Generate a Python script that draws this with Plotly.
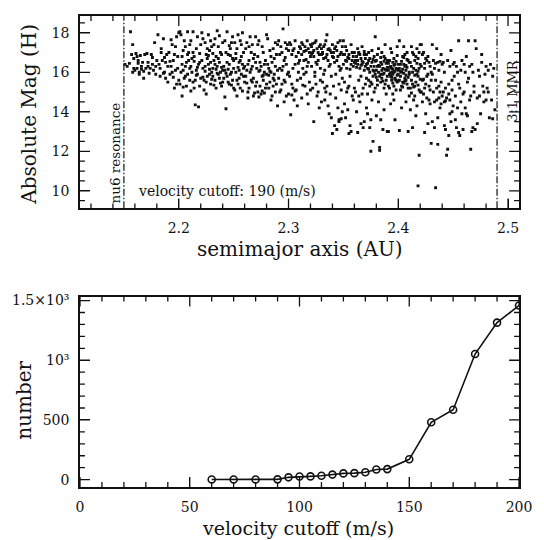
import plotly.graph_objects as go

# ---------------- data: top panel (semimajor axis, absolute magnitude) -------------
ASTEROIDS = [
 (2.151,16.4),(2.153,16.3),(2.156,18.05),(2.158,17.4),(2.157,16.9),(2.159,16.2),(2.158,16.0),(2.155,16.45),(2.159,16.7),(2.160,16.1),
 (2.161,16.95),(2.162,16.8),(2.163,16.6),(2.162,16.2),(2.164,16.0),(2.165,16.85),(2.166,16.3),(2.167,16.5),(2.168,15.7),(2.169,16.9),(2.170,16.2),(2.166,16.15),(2.163,16.45),(2.168,16.05),(2.164,15.9),
 (2.171,16.95),(2.172,16.3),(2.174,16.2),(2.175,16.9),(2.176,16.4),(2.177,16.1),(2.178,17.5),(2.179,16.3),(2.173,15.95),(2.180,16.6),(2.176,16.75),(2.172,16.5),(2.179,15.9),
 (2.181,17.9),(2.182,16.4),(2.183,15.8),(2.184,17.2),(2.185,16.6),(2.186,17.7),(2.187,16.0),(2.188,15.7),(2.189,16.9),(2.190,16.3),(2.183,16.2),(2.186,15.95),(2.188,16.5),(2.184,17.0),(2.190,15.5),(2.187,16.75),
 (2.191,17.0),(2.192,15.9),(2.193,16.3),(2.194,17.4),(2.195,16.6),(2.196,15.2),(2.197,16.1),(2.198,17.8),(2.199,16.8),(2.200,15.6),(2.192,16.55),(2.195,15.75),(2.197,17.3),(2.199,16.2),(2.194,16.0),(2.198,15.4),(2.196,16.9),(2.200,18.0),(2.193,17.65),
 (2.201,18.05),(2.202,17.9),(2.203,16.8),(2.204,16.1),(2.205,15.7),(2.206,17.3),(2.207,16.5),(2.208,15.9),(2.209,17.0),(2.210,16.2),(2.201,15.4),(2.203,16.4),(2.205,17.6),(2.207,15.3),(2.209,16.6),(2.202,16.0),(2.204,17.1),(2.206,15.8),(2.208,16.9),(2.210,15.6),(2.203,14.8),(2.206,16.3),(2.208,18.05),(2.210,17.4),(2.204,15.25),
 (2.211,17.6),(2.212,16.0),(2.213,15.5),(2.214,16.8),(2.215,14.35),(2.216,17.2),(2.217,15.9),(2.218,14.25),(2.219,16.5),(2.220,15.7),(2.211,16.3),(2.213,17.0),(2.214,15.2),(2.216,16.1),(2.217,17.8),(2.219,15.3),(2.212,16.7),(2.215,15.6),(2.218,16.4),(2.220,17.4),(2.213,18.05),(2.216,15.85),(2.219,16.95),(2.211,15.05),(2.217,16.25),(2.214,16.55),
 (2.221,18.0),(2.222,16.2),(2.223,15.6),(2.224,17.5),(2.225,16.9),(2.226,15.8),(2.227,16.4),(2.228,17.1),(2.229,15.4),(2.230,16.0),(2.221,16.6),(2.222,17.7),(2.223,15.1),(2.224,16.3),(2.225,15.5),(2.226,16.7),(2.227,17.9),(2.228,15.9),(2.229,16.5),(2.230,17.3),(2.222,15.75),(2.224,16.05),(2.226,17.2),(2.228,16.15),(2.230,15.65),(2.225,14.9),(2.227,16.85),(2.229,17.6),
 (2.231,16.2),(2.232,17.4),(2.233,15.6),(2.234,16.8),(2.235,18.1),(2.236,15.9),(2.237,16.5),(2.238,17.0),(2.239,15.3),(2.240,16.1),(2.231,15.8),(2.232,16.6),(2.233,17.7),(2.234,15.2),(2.235,16.3),(2.236,17.3),(2.237,15.7),(2.238,16.0),(2.239,16.9),(2.240,15.5),(2.233,16.4),(2.235,15.95),(2.237,17.85),(2.239,16.25),(2.231,16.95),(2.236,16.7),(2.238,15.45),(2.240,17.5),(2.234,16.15),(2.232,15.35),
 (2.241,16.3),(2.242,17.6),(2.243,14.15),(2.244,15.8),(2.245,16.9),(2.246,15.4),(2.247,17.2),(2.248,16.0),(2.249,15.6),(2.250,16.6),(2.241,15.7),(2.242,16.1),(2.243,17.0),(2.244,18.05),(2.245,15.5),(2.246,16.4),(2.247,15.9),(2.248,17.5),(2.249,16.7),(2.250,15.2),(2.242,14.75),(2.244,16.5),(2.246,17.35),(2.248,15.35),(2.250,16.2),(2.243,15.95),(2.247,16.85),(2.249,17.8),(2.245,16.15),
 (2.251,17.5),(2.252,16.0),(2.253,15.6),(2.254,17.9),(2.255,16.5),(2.256,15.2),(2.257,16.8),(2.258,18.0),(2.259,15.8),(2.260,16.3),(2.251,15.1),(2.252,16.7),(2.253,17.2),(2.254,15.4),(2.255,16.1),(2.256,17.6),(2.257,15.9),(2.258,16.4),(2.259,17.0),(2.260,15.5),(2.253,14.8),(2.255,15.7),(2.257,17.4),(2.259,16.2),(2.252,16.95),(2.256,16.6),(2.254,16.25),(2.258,15.05),
 (2.261,17.2),(2.262,16.1),(2.263,15.0),(2.264,16.6),(2.265,17.8),(2.266,15.6),(2.267,16.3),(2.268,14.8),(2.269,16.9),(2.270,15.3),(2.261,15.8),(2.262,17.5),(2.263,16.4),(2.264,15.2),(2.265,16.0),(2.266,17.0),(2.267,15.5),(2.268,16.7),(2.269,14.95),(2.270,17.8),(2.262,15.45),(2.264,17.3),(2.266,16.15),(2.268,15.7),(2.270,16.5),(2.263,14.7),(2.267,17.4),
 (2.271,16.2),(2.272,15.0),(2.273,17.6),(2.274,16.5),(2.275,14.9),(2.276,15.8),(2.277,17.0),(2.278,16.0),(2.279,15.2),(2.280,17.9),(2.271,15.5),(2.272,16.8),(2.273,14.75),(2.274,15.3),(2.275,16.3),(2.276,17.3),(2.277,15.6),(2.278,14.95),(2.279,16.6),(2.280,15.9),(2.272,17.4),(2.274,16.1),(2.276,15.05),(2.278,16.4),(2.280,15.4),(2.273,16.05),(2.277,15.85),
 (2.281,16.4),(2.282,15.2),(2.283,17.1),(2.284,16.0),(2.285,14.8),(2.286,15.7),(2.287,16.7),(2.288,17.5),(2.289,15.4),(2.290,16.1),(2.281,17.7),(2.282,16.2),(2.283,15.5),(2.284,14.6),(2.285,16.5),(2.286,17.2),(2.287,15.9),(2.288,15.0),(2.289,16.9),(2.290,14.3),(2.282,15.85),(2.284,16.8),(2.286,15.3),(2.288,16.3),(2.290,17.4),(2.283,16.05),(2.287,15.6),
 (2.291,17.6),(2.292,16.2),(2.293,15.1),(2.294,17.0),(2.295,18.2),(2.296,16.6),(2.297,15.5),(2.298,14.8),(2.299,17.4),(2.300,16.0),(2.291,15.7),(2.292,16.9),(2.293,17.3),(2.294,15.4),(2.295,16.3),(2.296,14.5),(2.297,17.5),(2.298,16.4),(2.299,15.9),(2.300,17.1),(2.292,15.0),(2.294,16.1),(2.296,15.6),(2.298,17.2),(2.300,14.9),(2.297,16.75),
 (2.301,17.5),(2.302,13.85),(2.303,16.9),(2.304,15.2),(2.305,17.2),(2.306,16.4),(2.307,15.1),(2.308,14.3),(2.309,17.0),(2.310,16.6),(2.301,15.8),(2.302,17.4),(2.303,15.4),(2.304,16.2),(2.305,14.6),(2.306,17.6),(2.307,16.8),(2.308,15.6),(2.309,16.0),(2.310,17.3),(2.303,14.85),(2.306,15.05),(2.309,16.45),(2.304,17.1),
 (2.311,17.2),(2.312,16.9),(2.313,17.4),(2.314,16.6),(2.315,15.3),(2.316,17.1),(2.317,16.3),(2.318,14.4),(2.319,17.0),(2.320,16.8),(2.311,15.7),(2.312,17.5),(2.313,16.2),(2.314,15.9),(2.315,17.3),(2.316,16.0),(2.317,14.9),(2.318,17.2),(2.319,15.5),(2.320,17.4),(2.312,14.7),(2.314,17.05),(2.316,16.65),(2.318,16.5),(2.320,15.1),(2.313,15.35),(2.317,17.6),
 (2.321,17.3),(2.322,17.0),(2.323,16.8),(2.324,17.5),(2.325,16.5),(2.326,17.2),(2.327,15.0),(2.328,16.9),(2.329,17.4),(2.330,14.5),(2.321,16.3),(2.322,15.2),(2.323,17.1),(2.324,16.0),(2.325,17.6),(2.326,14.8),(2.327,16.6),(2.328,17.3),(2.329,15.6),(2.330,16.9),(2.321,16.95),(2.323,13.5),(2.325,15.4),(2.327,17.0),(2.329,16.2),(2.322,17.45),(2.326,16.4),(2.328,14.2),(2.330,17.2),(2.324,15.8),
 (2.331,17.0),(2.332,16.7),(2.333,17.4),(2.334,15.0),(2.335,16.9),(2.336,14.3),(2.337,17.2),(2.338,16.4),(2.339,13.7),(2.340,16.8),(2.331,15.5),(2.332,17.3),(2.333,16.1),(2.334,17.6),(2.335,15.3),(2.336,16.6),(2.337,13.9),(2.338,17.1),(2.339,15.8),(2.340,17.4),(2.331,16.95),(2.333,14.6),(2.335,17.9),(2.337,16.3),(2.339,17.0),(2.332,15.9),(2.334,16.75),(2.336,17.15),(2.338,14.9),(2.340,12.9),(2.333,15.2),
 (2.341,17.0),(2.342,16.5),(2.343,17.3),(2.344,13.1),(2.345,16.8),(2.346,15.4),(2.347,17.6),(2.348,16.2),(2.349,14.0),(2.350,16.9),(2.341,15.3),(2.342,17.2),(2.343,14.7),(2.344,16.6),(2.345,17.5),(2.346,13.6),(2.347,16.1),(2.348,17.0),(2.349,15.7),(2.350,16.4),(2.341,16.75),(2.343,15.9),(2.345,14.2),(2.347,16.9),(2.349,17.3),(2.342,13.3),(2.344,17.1),(2.346,16.3),(2.348,15.1),(2.350,17.6),(2.346,13.5),(2.348,13.65),
 (2.351,16.9),(2.352,16.6),(2.353,17.1),(2.354,15.2),(2.355,16.7),(2.356,13.3),(2.357,16.4),(2.358,17.0),(2.359,14.6),(2.360,16.5),(2.351,15.5),(2.352,17.3),(2.353,16.2),(2.354,14.1),(2.355,16.9),(2.356,15.8),(2.357,13.0),(2.358,16.6),(2.359,16.8),(2.360,15.2),(2.351,14.4),(2.353,16.55),(2.355,15.3),(2.357,17.4),(2.359,16.3),(2.352,13.7),(2.354,16.75),(2.356,16.15),(2.358,14.8),(2.360,17.0),(2.355,12.9),(2.353,15.0),
 (2.361,16.6),(2.362,16.8),(2.363,16.4),(2.364,17.0),(2.365,16.2),(2.366,16.7),(2.367,14.9),(2.368,16.5),(2.369,16.9),(2.370,16.3),(2.361,15.0),(2.362,14.0),(2.363,16.6),(2.364,15.6),(2.365,16.9),(2.366,13.4),(2.367,16.4),(2.368,15.2),(2.369,16.1),(2.370,16.7),(2.361,16.45),(2.363,17.2),(2.365,14.5),(2.367,16.55),(2.369,13.5),(2.362,16.25),(2.364,16.95),(2.366,15.8),(2.368,13.2),(2.370,15.4),(2.363,12.95),(2.366,16.35),(2.369,17.05),(2.364,14.8),(2.367,17.3),
 (2.371,16.4),(2.372,16.2),(2.373,16.6),(2.374,16.0),(2.375,12.0),(2.376,16.5),(2.377,15.8),(2.378,16.3),(2.379,17.8),(2.380,16.1),(2.371,16.9),(2.372,14.9),(2.373,15.6),(2.374,16.7),(2.375,13.6),(2.376,15.4),(2.377,12.5),(2.378,16.8),(2.379,15.2),(2.380,16.6),(2.371,14.2),(2.372,16.45),(2.373,17.0),(2.374,13.2),(2.375,16.3),(2.376,14.6),(2.377,16.1),(2.378,15.0),(2.379,16.55),(2.380,13.8),(2.371,15.7),(2.373,16.15),(2.375,15.5),(2.377,16.65),(2.379,15.9),(2.372,13.9),(2.374,15.3),(2.376,17.1),(2.378,16.05),(2.380,15.75),
 (2.381,16.3),(2.382,16.0),(2.383,12.2),(2.384,16.5),(2.385,15.7),(2.386,16.2),(2.387,16.8),(2.388,15.4),(2.389,16.1),(2.390,16.6),(2.381,15.6),(2.382,17.2),(2.383,12.05),(2.384,15.9),(2.385,16.4),(2.386,13.1),(2.387,15.2),(2.388,16.7),(2.389,14.9),(2.390,15.8),(2.381,16.9),(2.382,14.5),(2.383,16.3),(2.384,15.5),(2.385,17.0),(2.386,15.9),(2.387,14.1),(2.388,16.15),(2.389,16.45),(2.390,13.0),(2.381,15.35),(2.383,15.8),(2.385,16.1),(2.387,16.55),(2.389,15.6),(2.382,16.35),(2.384,16.75),(2.386,15.55),(2.388,17.4),(2.390,16.25),(2.384,13.6),(2.387,15.95),
 (2.391,16.1),(2.392,15.9),(2.393,16.3),(2.394,15.6),(2.395,16.5),(2.396,16.0),(2.397,15.7),(2.398,16.2),(2.399,15.5),(2.400,16.4),(2.391,15.3),(2.392,16.6),(2.393,15.8),(2.394,16.2),(2.395,15.45),(2.396,16.7),(2.397,16.05),(2.398,15.6),(2.399,16.85),(2.400,15.9),(2.391,16.45),(2.392,15.2),(2.393,17.2),(2.394,16.0),(2.395,15.9),(2.396,15.3),(2.397,16.4),(2.398,15.1),(2.399,16.15),(2.400,16.1),(2.391,13.0),(2.393,14.4),(2.395,14.9),(2.397,13.6),(2.399,17.3),(2.392,16.25),(2.394,15.75),(2.396,16.35),(2.398,16.55),(2.400,15.55),(2.393,15.95),(2.395,16.15),(2.397,15.65),(2.399,15.85),(2.394,17.0),(2.396,14.6),
 (2.401,16.2),(2.402,15.8),(2.403,16.0),(2.404,15.5),(2.405,16.4),(2.406,15.7),(2.407,16.1),(2.408,15.4),(2.409,16.6),(2.410,15.9),(2.401,17.6),(2.402,16.4),(2.403,15.3),(2.404,16.8),(2.405,15.95),(2.406,16.3),(2.407,15.6),(2.408,17.0),(2.409,15.2),(2.410,16.5),(2.401,15.6),(2.402,15.1),(2.403,16.55),(2.404,16.15),(2.405,15.45),(2.406,16.9),(2.407,15.85),(2.408,16.25),(2.409,15.75),(2.410,14.8),(2.401,13.05),(2.403,14.2),(2.405,17.3),(2.407,14.5),(2.409,13.0),(2.402,16.05),(2.404,15.25),(2.406,15.55),(2.408,16.65),(2.410,16.0),(2.405,16.75),(2.407,16.35),
 (2.411,16.5),(2.412,15.6),(2.413,17.0),(2.414,16.2),(2.415,15.3),(2.416,16.8),(2.417,15.9),(2.418,10.25),(2.419,11.8),(2.420,16.4),(2.411,15.2),(2.412,17.3),(2.413,16.0),(2.414,14.6),(2.415,16.6),(2.416,15.5),(2.417,17.2),(2.418,15.8),(2.419,15.1),(2.420,17.4),(2.411,14.1),(2.412,16.3),(2.413,15.4),(2.414,16.9),(2.415,14.8),(2.416,16.1),(2.417,14.3),(2.418,16.7),(2.419,16.2),(2.420,15.0),(2.413,13.2),(2.415,15.85),(2.417,16.45),(2.419,17.0),(2.412,14.95),(2.416,13.8),(2.418,15.35),(2.420,15.65),(2.414,15.25),(2.418,16.05),
 (2.421,16.3),(2.422,15.6),(2.423,17.0),(2.424,15.2),(2.425,16.7),(2.426,14.7),(2.427,15.9),(2.428,16.5),(2.429,14.4),(2.430,16.0),(2.421,15.0),(2.422,16.9),(2.423,14.9),(2.424,16.2),(2.425,15.4),(2.426,16.6),(2.427,13.4),(2.428,15.3),(2.429,16.3),(2.430,12.4),(2.421,17.4),(2.423,15.65),(2.425,13.9),(2.427,16.8),(2.429,15.1),(2.422,14.5),(2.424,16.45),(2.426,15.8),(2.428,14.6),(2.430,15.6),(2.424,12.95),
 (2.431,17.4),(2.432,15.0),(2.433,16.2),(2.434,10.15),(2.435,14.6),(2.436,16.5),(2.437,15.3),(2.438,14.2),(2.439,16.9),(2.440,14.8),(2.431,13.5),(2.432,16.6),(2.433,14.5),(2.434,15.6),(2.435,17.2),(2.436,13.7),(2.437,16.1),(2.438,15.0),(2.439,14.4),(2.440,16.4),(2.431,15.9),(2.433,13.2),(2.435,15.2),(2.437,14.7),(2.439,15.5),(2.436,12.35),(2.434,16.45),(2.438,16.55),
 (2.441,16.5),(2.442,14.5),(2.443,15.2),(2.444,11.8),(2.445,12.1),(2.446,14.9),(2.447,16.3),(2.448,13.5),(2.449,15.6),(2.450,14.3),(2.441,15.0),(2.442,16.0),(2.443,13.1),(2.444,14.7),(2.445,16.6),(2.446,15.4),(2.447,13.9),(2.448,17.1),(2.449,14.0),(2.450,16.4),(2.443,14.55),(2.446,12.8),(2.449,15.1),(2.442,13.3),(2.447,14.6),
 (2.451,16.5),(2.452,14.8),(2.453,13.2),(2.454,16.0),(2.455,15.4),(2.456,12.8),(2.457,14.5),(2.458,16.6),(2.459,13.1),(2.460,15.0),(2.451,15.8),(2.452,13.6),(2.453,16.3),(2.454,14.2),(2.455,17.6),(2.456,15.2),(2.457,16.1),(2.458,13.9),(2.459,14.9),(2.460,16.4),(2.455,12.95),
 (2.461,16.0),(2.462,13.9),(2.463,15.5),(2.464,17.6),(2.465,14.6),(2.466,12.1),(2.467,16.4),(2.468,13.2),(2.469,15.0),(2.470,17.6),(2.461,14.2),(2.462,16.8),(2.463,13.8),(2.464,15.7),(2.465,16.3),(2.466,14.8),(2.467,13.0),(2.468,16.0),(2.469,15.3),(2.470,13.1),
 (2.471,17.2),(2.472,14.7),(2.473,16.1),(2.474,15.8),(2.475,13.9),(2.476,16.9),(2.477,15.3),(2.478,14.5),(2.479,15.9),(2.480,16.3),(2.472,13.4),(2.474,14.8),(2.476,16.5),(2.478,15.0),(2.480,14.6),
 (2.481,15.2),(2.482,16.1),(2.483,13.7),(2.484,16.4),(2.485,14.6),(2.486,15.8),(2.487,16.2),(2.488,14.1),(2.482,15.0),(2.486,13.65),
]

RESONANCES = [2.15, 2.49]          # nu6 resonance, 3:1 MMR (AU)
CUTOFF_LABEL = "velocity cutoff: 190 (m/s)"

# ---------------- data: bottom panel (number vs velocity cutoff) ----------------
VEL_CUTOFF = [60, 70, 80, 90, 95, 100, 105, 110, 115, 120, 125, 130, 135, 140, 150, 160, 170, 180, 190, 200]
NUMBER = [1, 1, 1, 2, 19, 26, 27, 32, 42, 52, 54, 62, 84, 88, 170, 480, 585, 1052, 1315, 1458]

Y2_TICKVALS = [0, 500, 1000, 1500]
Y2_TICKTEXT = ["0", "500", "10³", "1.5×10³"]

a_vals = [p[0] for p in ASTEROIDS]
h_vals = [p[1] for p in ASTEROIDS]

FONT = "DejaVu Serif"
INK = "#111111"

W, H = 544, 540
M = dict(l=79, r=21, t=12, b=53)
PLOT_W = W - M["l"] - M["r"]
PLOT_H = H - M["t"] - M["b"]
TOP_DOM = [0.5916, 1.0]
BOT_DOM = [0.0, 0.4042]

fig = go.Figure()
fig.add_trace(go.Scatter(x=a_vals, y=h_vals, mode="markers",
                         marker=dict(symbol="square", size=2.9, color=INK, line=dict(width=0)),
                         xaxis="x", yaxis="y", showlegend=False, hoverinfo="skip"))
fig.add_trace(go.Scatter(x=VEL_CUTOFF, y=NUMBER, mode="lines+markers",
                         line=dict(color=INK, width=1.6),
                         marker=dict(symbol="circle-open", size=7, color=INK, line=dict(width=1.6)),
                         xaxis="x2", yaxis="y2", showlegend=False))

for xr in RESONANCES:
    fig.add_shape(type="line", xref="x", yref="y domain", x0=xr, x1=xr, y0=0, y1=1,
                  line=dict(color=INK, width=1.2, dash="7px,2px,1.5px,2px"))

X1 = dict(range=[2.11, 2.51], dtick=0.1, tick0=2.2)
Y1 = dict(range=[9.11, 18.85], dtick=2, tick0=10)
X2 = dict(range=[0, 200], dtick=50, tick0=0)
Y2 = dict(range=[-62, 1533], tickvals=Y2_TICKVALS, ticktext=Y2_TICKTEXT)

MAJOR_LEN, MINOR_LEN = 10, 5


def tick_values(lo, hi, step, major_step):
    """tick positions (value, is_major) inside [lo, hi] on a regular grid."""
    out = []
    k = int(lo // step)
    while k * step <= hi + 1e-9:
        v = round(k * step, 6)
        if v >= lo - 1e-9:
            ratio = v / major_step
            out.append((v, abs(ratio - round(ratio)) < 1e-6))
        k += 1
    return out


def add_frame_ticks(xa, ya, xr, xminor, xmajor, yr, yminor, ymajor, ydom):
    # data units per pixel along each axis of this panel
    xpp = (xr[1] - xr[0]) / PLOT_W
    ypp = (yr[1] - yr[0]) / (PLOT_H * (ydom[1] - ydom[0]))
    for v, is_major in tick_values(xr[0], xr[1], xminor, xmajor):
        L = (MAJOR_LEN if is_major else MINOR_LEN) * ypp
        for y0, y1 in [(yr[0], yr[0] + L), (yr[1], yr[1] - L)]:
            fig.add_shape(type="line", xref=xa, yref=ya, x0=v, x1=v, y0=y0, y1=y1,
                          line=dict(color=INK, width=1.3), layer="above")
    for v, is_major in tick_values(yr[0], yr[1], yminor, ymajor):
        L = (MAJOR_LEN if is_major else MINOR_LEN) * xpp
        for x0, x1 in [(xr[0], xr[0] + L), (xr[1], xr[1] - L)]:
            fig.add_shape(type="line", xref=xa, yref=ya, x0=x0, x1=x1, y0=v, y1=v,
                          line=dict(color=INK, width=1.3), layer="above")


add_frame_ticks("x", "y", X1["range"], 0.02, 0.1, Y1["range"], 0.5, 2, TOP_DOM)
add_frame_ticks("x2", "y2", X2["range"], 10, 50, Y2["range"], 100, 500, BOT_DOM)

AX = dict(showline=True, linecolor=INK, linewidth=1.5, mirror=True,
          ticks="inside", ticklen=MAJOR_LEN, tickwidth=1.3, tickcolor=INK,
          showgrid=False, zeroline=False, ticklabelstandoff=6,
          tickfont=dict(family=FONT, size=14, color=INK))

fig.update_layout(
    width=W, height=H,
    margin=M,
    paper_bgcolor="white", plot_bgcolor="white",
    xaxis=dict(domain=[0, 1], anchor="y", **X1, **AX),
    yaxis=dict(domain=TOP_DOM, anchor="x", **Y1, **AX),
    xaxis2=dict(domain=[0, 1], anchor="y2", **X2, **AX),
    yaxis2=dict(domain=BOT_DOM, anchor="x2", **Y2, **AX),
)

ann = [
    dict(text="Absolute Mag (H)", x=-0.1149, y=0.7916, textangle=-90, size=20),
    dict(text="semimajor axis (AU)", x=0.5, y=0.5053, textangle=0, size=20),
    dict(text="number", x=-0.1273, y=0.1832, textangle=-90, size=20),
    dict(text="velocity cutoff (m/s)", x=0.4977, y=-0.086, textangle=0, size=19),
    dict(text="nu6 resonance", x=0.0788, y=0.7095, textangle=-90, size=13.5),
    dict(text="3:1 MMR", x=0.985, y=0.842, textangle=-90, size=13),
]
for a in ann:
    fig.add_annotation(text=a["text"], xref="paper", yref="paper", x=a["x"], y=a["y"],
                       xanchor="center", yanchor="middle", textangle=a["textangle"],
                       showarrow=False, font=dict(family=FONT, size=a["size"], color=INK))
fig.add_annotation(text=CUTOFF_LABEL, xref="paper", yref="paper", x=0.1284, y=0.6288,
                   xanchor="left", yanchor="middle", showarrow=False,
                   font=dict(family=FONT, size=14, color=INK))

fig.write_html("out.html")
